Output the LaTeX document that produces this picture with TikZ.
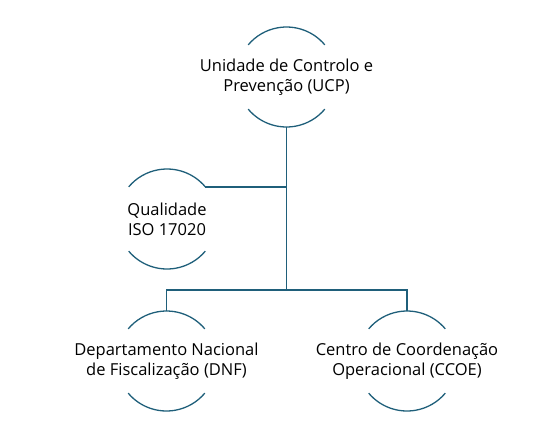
\documentclass[tikz,border=0pt]{standalone}
\usepackage{fontspec}
\setmainfont{Open Sans}
\usetikzlibrary{calc}
\definecolor{teal1}{HTML}{1F5F7A}
\begin{document}
\begin{tikzpicture}[x=1pt,y=1pt,
  unit/.style={inner sep=0pt, align=center,
    font=\fontsize{16.5}{20}\selectfont, text=black},
  arcline/.style={draw=teal1, line width=1.3pt},
  link/.style={draw=teal1, line width=1.3pt}]
\useasboundingbox (0,0) rectangle (546,-432);
\node[unit] (u) at (286.5,-77) {Unidade de Controlo e\\Prevenção (UCP)};
\node[unit] (q) at (167,-219) {Qualidade\\ISO 17020};
\node[unit] (d) at (166.5,-361) {Departamento Nacional\\de Fiscalização (DNF)};
\node[unit] (c) at (407,-361) {Centro de Coordenação\\Operacional (CCOE)};
\foreach \n in {u,q,d,c}{
  \draw[arcline] ($(\n.center)+(40:50)$) arc[start angle=40, end angle=140, radius=50pt];
  \draw[arcline] ($(\n.center)+(220:50)$) arc[start angle=220, end angle=320, radius=50pt];
  \coordinate (\n-top) at ($(\n.center)+(0,50)$);
  \coordinate (\n-bot) at ($(\n.center)+(0,-50)$);
  \coordinate (\n-ne) at ($(\n.center)+(40:50)$);
}
\coordinate (bus) at (286.5,-290);
\draw[link] (u-bot) -- (bus);
\draw[link] (q-ne) -- (q-ne -| u-bot);
\draw[link] (d-top) |- (bus) -| (c-top);
\end{tikzpicture}
\end{document}
